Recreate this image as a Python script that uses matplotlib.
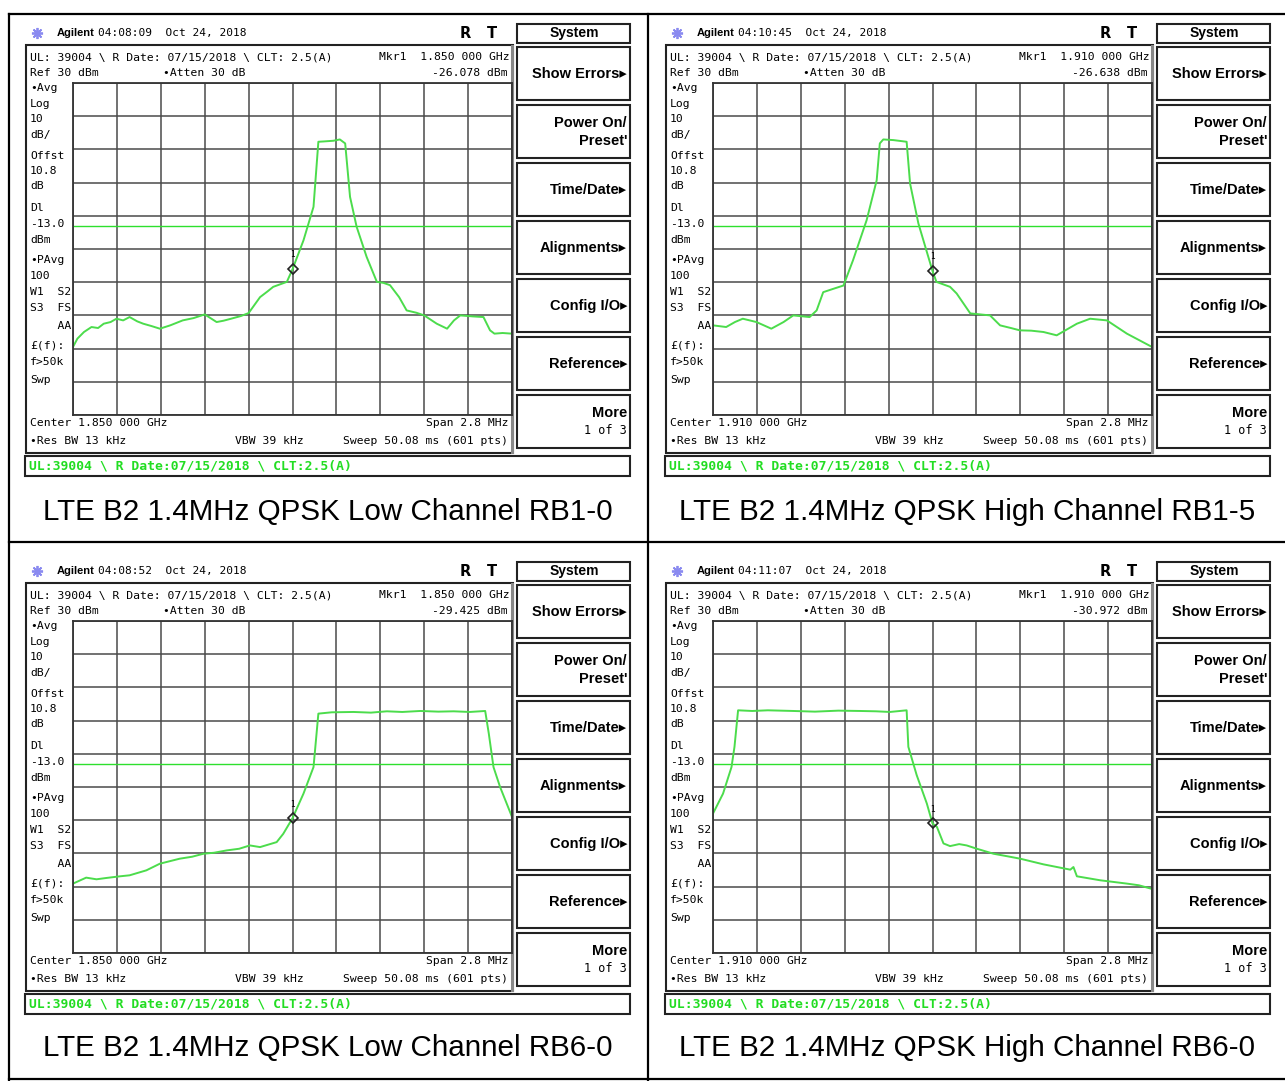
import matplotlib.pyplot as plt
from matplotlib.patches import Rectangle
import numpy as np

captions = ["LTE B2 1.4MHz QPSK Low Channel RB1-0",
            "LTE B2 1.4MHz QPSK High Channel RB1-5",
            "LTE B2 1.4MHz QPSK Low Channel RB6-0",
            "LTE B2 1.4MHz QPSK High Channel RB6-0"]
times = ["04:08:09", "04:10:45", "04:08:52", "04:11:07"]
centers = ["1.850 000", "1.910 000", "1.850 000", "1.910 000"]
marker_dbm = [-26.078, -26.638, -29.425, -30.972]

# trace: offset from centre frequency (MHz) and level (dBm)
f_low_rb1 = [-1.4, -1.372, -1.33, -1.282, -1.24, -1.204, -1.16, -1.123, -1.08, -1.039,
             -0.99, -0.952, -0.9, -0.846, -0.78, -0.7, -0.63, -0.56, -0.484, -0.44,
             -0.392, -0.33, -0.28, -0.207, -0.16, -0.123, -0.036, 0.0, 0.07, 0.134,
             0.165, 0.2, 0.26, 0.302, 0.336, 0.367, 0.409, 0.473, 0.538, 0.58,
             0.622, 0.68, 0.728, 0.79, 0.84, 0.92, 0.986, 1.03, 1.07, 1.15,
             1.218, 1.26, 1.288, 1.34, 1.4]
p_low_rb1 = [-49.5, -47.0, -45.0, -43.5, -43.8, -42.5, -42.0, -41.0, -41.5, -40.5,
             -41.8, -42.5, -43.2, -44.0, -43.0, -41.5, -40.8, -39.7, -42.0, -41.6,
             -41.0, -40.2, -39.3, -34.5, -32.8, -31.4, -29.9, -26.1, -17.4, -7.3,
             12.3, 12.4, 12.6, 13.0, 11.8, -4.3, -13.3, -22.4, -29.9, -30.2,
             -30.9, -34.5, -38.5, -39.2, -40.0, -42.5, -44.0, -41.5, -40.0, -40.3,
             -40.5, -44.5, -45.5, -45.3, -45.5]

f_high_rb1 = [-1.4, -1.316, -1.26, -1.21, -1.123, -1.028, -0.95, -0.888, -0.784, -0.739,
              -0.697, -0.633, -0.568, -0.507, -0.42, -0.356, -0.336, -0.314, -0.249, -0.165,
              -0.143, -0.09, -0.036, 0.0, 0.025, 0.112, 0.154, 0.241, 0.367, 0.431,
              0.5, 0.557, 0.63, 0.708, 0.792, 0.921, 1.005, 1.112, 1.24, 1.32, 1.4]
p_high_rb1 = [-43.0, -43.5, -42.0, -41.0, -42.0, -44.0, -42.0, -40.0, -40.5, -38.5,
              -33.0, -32.0, -31.0, -23.4, -11.3, 0.7, 11.8, 13.0, 12.8, 12.3,
              -0.3, -12.3, -20.9, -26.6, -29.9, -31.4, -33.4, -39.4, -40.0, -43.0,
              -43.8, -44.5, -44.6, -45.0, -46.0, -42.5, -41.0, -41.5, -45.5, -47.5, -49.5]

f_low_rb6 = [-1.4, -1.316, -1.25, -1.187, -1.1, -1.039, -0.932, -0.846, -0.72, -0.64,
             -0.568, -0.5, -0.42, -0.34, -0.272, -0.207, -0.101, -0.059, 0.0, 0.07,
             0.134, 0.165, 0.25, 0.389, 0.5, 0.602, 0.7, 0.815, 0.93, 1.028,
             1.13, 1.229, 1.252, 1.282, 1.324, 1.4]
p_low_rb6 = [-49.1, -47.3, -47.8, -47.4, -46.9, -46.6, -45.1, -43.1, -41.6, -41.0,
             -40.1, -39.8, -39.1, -38.6, -37.6, -38.1, -36.6, -34.1, -29.4, -22.0,
             -14.0, 2.1, 2.5, 2.6, 2.4, 2.8, 2.6, 2.9, 2.7, 2.8,
             2.6, 2.9, -3.9, -14.0, -20.0, -29.0]

f_high_rb6 = [-1.4, -1.336, -1.282, -1.263, -1.24, -1.15, -1.05, -0.888, -0.75, -0.6,
              -0.462, -0.36, -0.272, -0.165, -0.154, -0.101, -0.036, 0.0, 0.028, 0.07,
              0.112, 0.17, 0.218, 0.283, 0.389, 0.47, 0.56, 0.708, 0.879, 0.899,
              0.921, 1.07, 1.24, 1.316, 1.4]
p_high_rb6 = [-28.0, -22.0, -14.0, -7.9, 3.1, 2.9, 3.1, 2.9, 2.7, 3.0,
              2.9, 2.8, 2.6, 3.1, -7.9, -16.4, -25.0, -31.0, -32.0, -37.0,
              -37.8, -37.2, -37.6, -38.6, -40.1, -40.8, -41.6, -43.3, -44.9, -44.1,
              -46.9, -48.1, -49.1, -49.6, -50.7]

freqs = [f_low_rb1, f_high_rb1, f_low_rb6, f_high_rb6]
levels = [p_low_rb1, p_high_rb1, p_low_rb6, p_high_rb6]

left_labels = [("•Avg", 88), ("Log", 104), ("10", 119), ("dB/", 135), ("Offst", 156),
               ("10.8", 171), ("dB", 186), ("Dl", 208), ("-13.0", 224), ("dBm", 240),
               ("•PAvg", 260), ("100", 276), ("W1  S2", 292), ("S3  FS", 308),
               ("    AA", 326), ("£(f):", 346), ("f>50k", 362), ("Swp", 380)]
softkeys = [["Show Errors▸"], ["Power On/", "Preset'"], ["Time/Date▸"], ["Alignments▸"],
            ["Config I/O▸"], ["Reference▸"], ["More", "1 of 3"]]

W, H = 1285, 1081
fig = plt.figure(figsize=(W / 100, H / 100), dpi=100)
fig.patch.set_facecolor('white')
bg = fig.add_axes([0, 0, 1, 1])
bg.set_xlim(0, W)
bg.set_ylim(H, 0)
bg.axis('off')

MONO = ['DejaVu Sans Mono']
KEY = ['Liberation Sans', 'DejaVu Sans']
GREEN = '#4cdc4c'

def box(x0, y0, x1, y1, lw=1.4, ec='#222222'):
    bg.add_patch(Rectangle((x0, y0), x1 - x0, y1 - y0, fill=False, lw=lw, ec=ec))

# table lines
for y in [14, 542, 1079]:
    bg.plot([9, W], [y, y], color='black', lw=1.6)
for x in [9, 648]:
    bg.plot([x, x], [14, 1080], color='black', lw=1.6)

offsets = [(0, 0), (640, 0), (0, 538), (640, 538)]

for i, (ox, oy) in enumerate(offsets):
    # header
    bg.plot(37 + ox, 33 + oy, marker=(8, 2, 0), ms=8, color='#8a8af0', mew=1.3)
    bg.text(57 + ox, 33 + oy, "Agilent", fontsize=8, weight='bold',
            family='Liberation Sans', va='center')
    bg.text(98 + ox, 33 + oy, times[i] + "  Oct 24, 2018", fontsize=8, family=MONO,
            va='center')
    bg.text(465 + ox, 33 + oy, "R", fontsize=10.5, weight='bold', va='center', ha='center')
    bg.text(492 + ox, 33 + oy, "T", fontsize=10.5, weight='bold', va='center', ha='center')

    # main display box
    box(26 + ox, 45 + oy, 513 + ox, 453 + oy, lw=1.5)
    bg.plot([512 + ox, 512 + ox], [46 + oy, 452 + oy], color='#888888', lw=2.2)
    bg.text(30 + ox, 57 + oy, "UL: 39004 \\ R Date: 07/15/2018 \\ CLT: 2.5(A)",
            fontsize=8.2, family=MONO, va='center')
    bg.text(510 + ox, 57 + oy, "Mkr1  " + centers[i] + " GHz", fontsize=8.2,
            family=MONO, va='center', ha='right')
    bg.text(30 + ox, 73 + oy, "Ref 30 dBm", fontsize=8.2, family=MONO, va='center')
    bg.text(163 + ox, 73 + oy, "•Atten 30 dB", fontsize=8.2, family=MONO, va='center')
    bg.text(508 + ox, 73 + oy, "%.3f dBm" % marker_dbm[i], fontsize=8.2, family=MONO,
            va='center', ha='right')
    for txt, y in left_labels:
        bg.text(30 + ox, y + oy, txt, fontsize=8.2, family=MONO, va='center')
    bg.text(30 + ox, 423 + oy, "Center " + centers[i] + " GHz", fontsize=8.2,
            family=MONO, va='center')
    bg.text(508 + ox, 423 + oy, "Span 2.8 MHz", fontsize=8.2, family=MONO,
            va='center', ha='right')
    bg.text(30 + ox, 441 + oy, "•Res BW 13 kHz", fontsize=8.2, family=MONO, va='center')
    bg.text(235 + ox, 441 + oy, "VBW 39 kHz", fontsize=8.2, family=MONO, va='center')
    bg.text(508 + ox, 441 + oy, "Sweep 50.08 ms (601 pts)", fontsize=8.2, family=MONO,
            va='center', ha='right')

    # green status line
    box(25 + ox, 456 + oy, 630 + ox, 476 + oy, lw=1.5)
    bg.text(29 + ox, 466 + oy, "UL:39004 \\ R Date:07/15/2018 \\ CLT:2.5(A)",
            fontsize=9.4, family=MONO, weight='bold', color='#22dd22', va='center')

    # soft keys
    box(517 + ox, 24 + oy, 630 + ox, 43 + oy, lw=1.5)
    bg.text(574 + ox, 33 + oy, "System", fontsize=10, weight='bold', family=KEY,
            ha='center', va='center')
    for k, lines in enumerate(softkeys):
        top = 47 + 58 * k
        box(517 + ox, top + oy, 630 + ox, top + 53 + oy, lw=1.5)
        if len(lines) == 1:
            bg.text(627 + ox, top + 27 + oy, lines[0], fontsize=10.5, weight='bold',
                    family=KEY, ha='right', va='center')
        else:
            bg.text(627 + ox, top + 18 + oy, lines[0], fontsize=10.5, weight='bold',
                    family=KEY, ha='right', va='center')
            bg.text(627 + ox, top + 36 + oy, lines[1], fontsize=10.5 if k == 1 else 8.5,
                    weight='bold' if k == 1 else 'normal',
                    family=KEY if k == 1 else MONO, ha='right', va='center')

    # caption
    bg.text(328 + ox * (967 - 328) / 640, 512 + oy * (1048 - 512) / 538, captions[i],
            fontsize=21.3, family='Liberation Sans', ha='center', va='center')

    # graticule with the trace
    ax = fig.add_axes([(73 + ox) / W, 1 - (415 + oy) / H, 439 / W, 332 / H])
    ax.set_xlim(-1.4, 1.4)
    ax.set_ylim(-70, 30)
    ax.set_xticks(np.linspace(-1.4, 1.4, 11))
    ax.set_yticks(np.arange(-70, 31, 10))
    ax.grid(True, color='#4a4a4a', lw=1.1)
    ax.tick_params(length=0, labelbottom=False, labelleft=False)
    for s in ax.spines.values():
        s.set_color('#333333')
        s.set_linewidth(1.3)
    ax.axhline(-13, color='#2ee02e', lw=1.0)
    ax.plot(freqs[i], levels[i], color=GREEN, lw=1.4)
    ax.plot(0, marker_dbm[i], marker='D', ms=5.5, mfc='none', mec='#222222', mew=1.2)
    ax.annotate("1", (0, marker_dbm[i]), xytext=(0, 7), textcoords='offset points',
                ha='center', va='bottom', fontsize=5.5)

fig.savefig('out.png', dpi=100, facecolor='white')
